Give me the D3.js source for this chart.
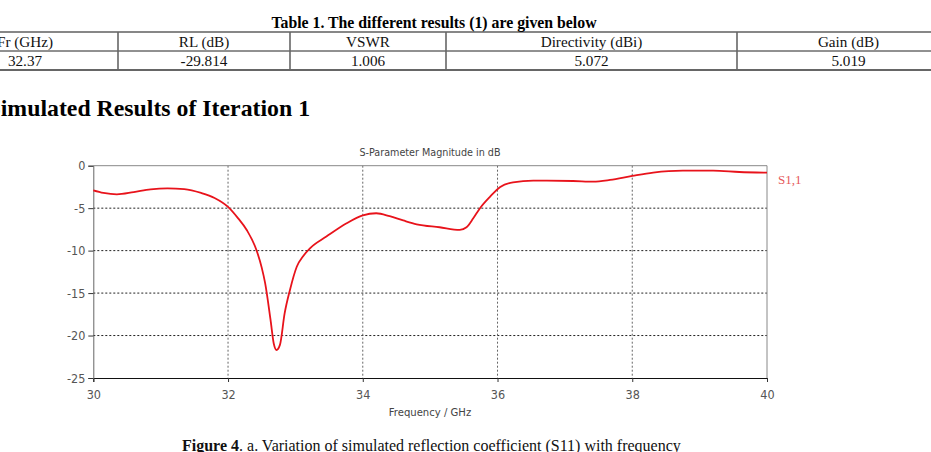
<!DOCTYPE html>
<html>
<head>
<meta charset="utf-8">
<script src="https://cdn.jsdelivr.net/npm/d3@7"></script>
<style>
  body { margin: 0; background: #fff; }
  svg { display: block; }
</style>
</head>
<body>
<div id="chart"></div>
<script>
// table contents
var tableTitle = "Table 1. The different results (1) are given below";
var tableHeaders = ["Fr (GHz)", "RL (dB)", "VSWR", "Directivity (dBi)", "Gain (dB)"];
var tableValues = ["32.37", "-29.814", "1.006", "5.072", "5.019"];

// S11 curve
var freqs = [30.0, 30.15, 30.35, 30.6, 30.85, 31.1, 31.35, 31.6, 31.8, 32.0,
  32.15, 32.28, 32.42, 32.5, 32.55, 32.63, 32.68, 32.72, 32.77, 32.84,
  32.92, 33.02, 33.12, 33.22, 33.46, 33.76, 34.0, 34.2, 34.4, 34.6,
  34.8, 35.14, 35.44, 35.54, 35.64, 35.74, 35.89, 36.04, 36.23, 36.53,
  37.12, 37.42, 37.67, 38.0, 38.31, 38.75, 39.2, 39.59, 40.0];
var s11 = [-2.9, -3.2, -3.37, -3.1, -2.78, -2.66, -2.75, -3.2, -3.8, -4.85,
  -6.2, -7.6, -9.9, -12.0, -13.8, -18.1, -21.0, -21.7, -21.1, -17.4,
  -14.6, -11.9, -10.6, -9.7, -8.35, -6.78, -5.85, -5.6, -5.95, -6.45,
  -6.9, -7.25, -7.56, -7.25, -6.2, -5.0, -3.64, -2.5, -1.96, -1.76,
  -1.8, -1.88, -1.68, -1.21, -0.82, -0.59, -0.59, -0.74, -0.82];
var xTicks = [30, 32, 34, 36, 38, 40];
var yTicks = [0, -5, -10, -15, -20, -25];

var W = 931, H = 452;
var svg = d3.select("#chart").append("svg")
    .attr("width", W).attr("height", H);

// ---- table ----
var serif = "'Liberation Serif', 'Times New Roman', serif";
svg.append("text")
    .attr("x", 434).attr("y", 28)
    .attr("text-anchor", "middle")
    .attr("font-family", serif).attr("font-weight", "bold").attr("font-size", 15.8)
    .text(tableTitle);

var colEdges = [-68, 118, 290, 446, 737, 960];
var rowY = [32, 51, 70];
var tbl = svg.append("g");
tbl.append("line").attr("x1", 0).attr("x2", W).attr("y1", rowY[0]).attr("y2", rowY[0])
    .attr("stroke", "#111").attr("stroke-width", 1.2);
tbl.append("line").attr("x1", 0).attr("x2", W).attr("y1", rowY[1]).attr("y2", rowY[1])
    .attr("stroke", "#222").attr("stroke-width", 1);
tbl.append("line").attr("x1", 0).attr("x2", W).attr("y1", rowY[2]).attr("y2", rowY[2])
    .attr("stroke", "#333").attr("stroke-width", 1.6);
tbl.selectAll(".vline").data(colEdges.slice(1, 5)).enter().append("line")
    .attr("x1", d => d).attr("x2", d => d)
    .attr("y1", rowY[0]).attr("y2", rowY[2])
    .attr("stroke", "#666").attr("stroke-width", 1.6);

[tableHeaders, tableValues].forEach(function(row, r) {
  tbl.selectAll(".c" + r).data(row).enter().append("text")
      .attr("x", (d, i) => i === 0 ? 25 : (colEdges[i] + colEdges[i + 1]) / 2)
      .attr("y", rowY[r] + 14.5)
      .attr("text-anchor", "middle")
      .attr("font-family", serif).attr("font-size", 15.2)
      .attr("fill", "#111")
      .text(d => d);
});

// section heading (cut at left edge like the source)
svg.append("text")
    .attr("x", -12.5).attr("y", 116)
    .attr("font-family", serif).attr("font-weight", "bold").attr("font-size", 23.8)
    .text("Simulated Results of Iteration 1");

// ---- chart ----
var sans = "'DejaVu Sans Condensed', 'DejaVu Sans', sans-serif";
var plot = {left: 93.3, right: 767, top: 165.7, bottom: 378};

var x = d3.scaleLinear().domain([30, 40]).range([plot.left, plot.right]);
var y = d3.scaleLinear().domain([-25, 0]).range([plot.bottom, plot.top]);

var g = svg.append("g");

// grid
g.selectAll(".hgrid").data(yTicks.filter(d => d !== 0 && d !== -25)).enter().append("line")
    .attr("x1", plot.left).attr("x2", plot.right)
    .attr("y1", d => y(d)).attr("y2", d => y(d))
    .attr("stroke", "#222").attr("stroke-width", 1)
    .attr("stroke-dasharray", "2,2");
g.selectAll(".vgrid").data(xTicks.filter(d => d !== 30 && d !== 40)).enter().append("line")
    .attr("x1", d => x(d)).attr("x2", d => x(d))
    .attr("y1", plot.top).attr("y2", plot.bottom)
    .attr("stroke", "#666").attr("stroke-width", 1)
    .attr("stroke-dasharray", "2,2");

// frame
g.append("line").attr("x1", plot.left).attr("x2", plot.right)
    .attr("y1", plot.top).attr("y2", plot.top).attr("stroke", "#888");
g.append("line").attr("x1", plot.right).attr("x2", plot.right)
    .attr("y1", plot.top).attr("y2", plot.bottom).attr("stroke", "#888");

// axes (plain hyphen minus as in the source)
var fmt = d => String(d);
var xAxis = g.append("g")
    .attr("transform", "translate(0," + plot.bottom + ")")
    .call(d3.axisBottom(x).tickValues(xTicks).tickSize(4).tickPadding(8).tickFormat(fmt));
var yAxis = g.append("g")
    .attr("transform", "translate(" + plot.left + ",0)")
    .call(d3.axisLeft(y).tickValues(yTicks).tickSize(5).tickPadding(3).tickFormat(fmt));

[xAxis, yAxis].forEach(function(a) {
  a.selectAll("text").attr("font-family", sans).attr("font-size", 12.5).attr("fill", "#555");
  a.selectAll(".tick line").attr("stroke", "#333");
});
xAxis.select(".domain").attr("stroke", "#111");
yAxis.select(".domain").attr("stroke", "#666");

// curve
var pts = freqs.map((f, i) => [f, s11[i]]);
var line = d3.line()
    .x(d => x(d[0]))
    .y(d => y(d[1]))
    .curve(d3.curveMonotoneX);
g.append("path")
    .datum(pts)
    .attr("d", line)
    .attr("fill", "none")
    .attr("stroke", "#e8131b")
    .attr("stroke-width", 1.8);

// labels
g.append("text")
    .attr("x", 430).attr("y", 156)
    .attr("text-anchor", "middle")
    .attr("font-family", sans).attr("font-size", 10.7).attr("fill", "#444")
    .text("S-Parameter Magnitude in dB");
g.append("text")
    .attr("x", 430).attr("y", 416)
    .attr("text-anchor", "middle")
    .attr("font-family", sans).attr("font-size", 11.2).attr("fill", "#444")
    .text("Frequency / GHz");
g.append("text")
    .attr("x", 778).attr("y", 184)
    .attr("font-family", serif).attr("font-size", 13).attr("fill", "#e65a5a")
    .text("S1,1");

// caption
var cap = svg.append("text")
    .attr("x", 182).attr("y", 451)
    .attr("font-family", serif).attr("font-size", 16).attr("fill", "#111");
cap.append("tspan").attr("font-weight", "bold").text("Figure 4");
cap.append("tspan").text(". a. Variation of simulated reflection coefficient (S11) with frequency");
</script>
</body>
</html>
